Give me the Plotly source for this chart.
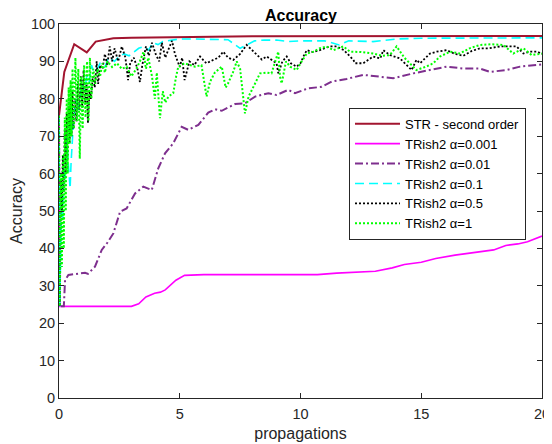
import plotly.graph_objects as go

# ---------------- data ----------------
str_x = [0, 0.22, 0.63, 1.15, 1.52, 2.25, 3.0, 5.0, 8.0, 20]
str_y = [75.5, 87.2, 94.6, 92.4, 95.3, 96.2, 96.3, 96.4, 96.7, 96.8]

a001_x = [0, 0.03, 3.0, 3.3, 3.6, 3.96, 4.2, 4.4, 4.84, 5.2, 6.0, 10.7, 11.5, 13.1, 13.8,
          14.3, 15.0, 15.6, 16.4, 17.0, 18.0, 18.5, 19.0, 19.4, 20]
a001_y = [75.5, 24.5, 24.5, 25.2, 27.0, 28.0, 28.3, 28.9, 31.5, 32.8, 33.0, 33.0, 33.4, 33.9, 34.8,
          35.7, 36.3, 37.3, 38.2, 38.8, 39.6, 40.8, 41.2, 41.8, 43.3]

a01_x = [0, 0.03, 0.2, 0.25, 0.39, 1.08, 1.2, 1.49, 1.77, 2.0, 2.25, 2.53, 2.8, 3.15, 3.49, 3.84,
         4.11, 4.39, 4.73, 5.08, 5.35, 5.77, 6.18, 6.46, 6.74, 7.29, 7.70, 8.12, 8.67, 9.01,
         9.49, 9.77, 10.32, 10.88, 11.29, 11.91, 12.6, 13.2, 13.84, 14.67, 15.36, 16.05,
         16.74, 17.43, 17.85, 18.54, 19.09, 19.78, 20]
a01_y = [75.5, 24.5, 24.5, 31.5, 32.9, 33.5, 33.2, 35.1, 39.6, 41.5, 44.0, 49.8, 50.7, 54.7, 56.5, 55.6,
         61.4, 65.4, 68.1, 72.5, 71.7, 73.0, 76.3, 77.2, 76.8, 78.6, 78.8, 80.6, 81.5, 81.0,
         82.4, 81.5, 82.8, 83.2, 84.6, 85.3, 86.4, 85.9, 85.5, 86.8, 87.7, 88.6,
         88.1, 88.1, 87.2, 87.7, 88.6, 89.0, 89.2]

a1_x = [0, 0.03, 0.07, 0.1, 0.15, 0.2, 0.25, 0.3, 0.35, 0.4, 0.46, 0.5, 0.55, 0.6, 0.7, 0.8, 0.87,
        0.95, 1.05, 1.15, 1.25, 1.35, 1.45, 1.56, 1.7, 1.9, 2.05, 2.3, 2.5, 2.7, 2.9, 3.1,
        3.3, 3.5, 3.7, 3.9, 4.1, 4.3, 4.7, 5.0, 5.5, 6.0, 7.0, 7.5, 7.8, 8.1, 8.5, 9.0,
        9.5, 10.0, 11.0, 11.6, 12.0, 13.0, 14.0, 15.0, 20]
a1_y = [75.5, 24.5, 40, 52, 48, 62, 58, 70, 66, 60, 56, 63, 70, 74, 80, 77, 80,
        84, 82, 86, 84.5, 89, 87, 87.7, 89.5, 88.5, 91, 90, 91.5, 92, 91.5, 92.5,
        93.5, 94, 93, 95, 94.5, 95.3, 95.8, 96, 96, 96, 95.8, 93.5, 94.5, 95.5, 95.7, 95.7,
        95.3, 95.5, 95.5, 94.4, 95.5, 95.3, 96.0, 96.2, 96.3]

a5_x = [0, 0.03, 0.06, 0.09, 0.12, 0.16, 0.2, 0.24, 0.28, 0.32, 0.36, 0.40, 0.44, 0.48, 0.52, 0.56,
        0.60, 0.66, 0.72, 0.78, 0.84, 0.90, 0.96, 1.02, 1.08, 1.14, 1.20, 1.26, 1.32, 1.40,
        1.48, 1.56, 1.62, 1.7, 1.8, 1.9, 2.0, 2.1, 2.2, 2.3, 2.45, 2.6, 2.75, 2.86, 2.95,
        3.1, 3.25, 3.35, 3.45, 3.6, 3.72, 3.85, 4.0, 4.15, 4.26, 4.4, 4.55, 4.68, 4.8, 5.0,
        5.1, 5.2, 5.4, 5.6, 5.84, 6.1, 6.39, 6.6, 6.8, 7.0, 7.22, 7.5, 7.77, 8.0, 8.18, 8.4,
        8.6, 8.8, 9.01, 9.08, 9.25, 9.43, 9.6, 9.84, 10.0, 10.12, 10.26, 10.5, 10.8, 11.2,
        11.5, 11.8, 12.19, 12.26, 12.6, 13.01, 13.3, 13.43, 13.7, 14.12, 14.4, 14.6, 14.8,
        14.95, 15.36, 15.64, 16.05, 16.4, 16.74, 17.1, 17.43, 17.8, 18.26, 18.68, 18.95,
        19.23, 19.5, 19.8, 20]
a5_y = [75.5, 24.5, 45, 58, 50, 65, 55, 72, 60, 76, 65, 78, 68, 80, 70, 82,
        72, 80, 74, 84, 77, 86, 78, 87.7, 79, 84, 73.5, 82, 80, 86,
        83, 90, 84, 89, 88, 92, 89, 94, 90, 93.5, 90, 94, 91, 85, 89.6,
        91, 88, 84.5, 89, 94, 91.5, 95, 92, 90, 95, 91, 93.5, 95.5, 92, 88.5,
        91, 85, 90, 89, 91.3, 89.5, 90.4, 91, 92.6, 91, 90.4, 92, 94.4, 93, 92.1, 90.5,
        91.3, 90.5, 89.5, 86.8, 90, 91.3, 89.5, 88.6, 89.5, 91.3, 93.0, 92.5, 93, 94,
        94, 93, 90.4, 89.5, 89.5, 91.3, 90.8, 93, 91.7, 90.8, 89, 87.7, 90.4,
        89.5, 92.1, 92.6, 93, 92, 91.5, 92.8, 93.5, 93.5, 94, 93.9, 94,
        92.1, 92.6, 92.6, 92]

a10_x = [0, 0.03, 0.06, 0.09, 0.12, 0.16, 0.2, 0.24, 0.28, 0.32, 0.36, 0.40, 0.44, 0.48, 0.52, 0.56,
         0.62, 0.68, 0.74, 0.80, 0.86, 0.92, 0.98, 1.04, 1.10, 1.16, 1.22, 1.28, 1.34, 1.42,
         1.50, 1.6, 1.7, 1.8, 1.9, 2.0, 2.2, 2.4, 2.6, 2.8, 3.0, 3.2, 3.35, 3.5, 3.6, 3.7,
         3.85, 3.97, 4.05, 4.18, 4.3, 4.4, 4.53, 4.73, 4.85, 4.94, 5.2, 5.63, 5.9, 6.11, 6.25,
         6.45, 6.74, 6.9, 7.0, 7.2, 7.36, 7.5, 7.7, 7.85, 8.12, 8.32, 8.6, 8.8, 9.08, 9.15,
         9.22, 9.4, 9.57, 9.84, 10.05, 10.26, 10.53, 10.8, 11.08, 11.36, 11.77, 12.05, 12.5,
         13.0, 13.4, 13.7, 13.98, 14.3, 14.6, 14.8, 15.2, 15.5, 15.77, 16.2, 16.6, 17.0,
         17.43, 17.9, 18.4, 18.81, 19.23, 19.57, 20]
a10_y = [75.5, 24.5, 40, 60, 35, 65, 40, 75, 50, 80, 60, 83, 68, 85, 70, 88,
         72, 91, 74, 88, 64, 86, 72, 89, 75, 90, 74, 91, 80, 88,
         84, 88, 86, 89.5, 87, 90, 88.5, 89.5, 88, 88.6, 86, 88, 90, 92.6, 88, 91,
         86, 80, 87, 74.8, 82, 79, 80.6, 81.5, 86, 88.6, 89.5, 88.6, 89, 80.6, 84.5,
         87, 88.6, 83, 84.1, 87, 90, 88, 76.1, 80.6, 84.1, 86.8, 87, 86.8, 92.6, 86,
         84.1, 90, 88.6, 87.7, 90, 92.1, 92.6, 93.5, 94, 93, 94, 92.6, 92.5,
         92.1, 91.5, 91.7, 94, 91, 89, 87.7, 88.6, 89.5, 91.3, 92.6, 92.1, 93.5,
         94.4, 94.6, 94.4, 92.1, 93.5, 91.7, 92.1]

x_ticks = [0, 5, 10, 15, 20]
y_ticks = [0, 10, 20, 30, 40, 50, 60, 70, 80, 90, 100]

series = [
    ("STR - second order", str_x, str_y, "#A2142F", "solid", 2.0),
    ("TRish2 α=0.001", a001_x, a001_y, "#FF00FF", "solid", 1.6),
    ("TRish2 α=0.01", a01_x, a01_y, "#7E2F8E", "8px,3px,2px,3px", 2.0),
    ("TRish2 α=0.1", a1_x, a1_y, "#00FFFF", "9px,5px", 1.6),
    ("TRish2 α=0.5", a5_x, a5_y, "#000000", "2px,2px", 1.8),
    ("TRish2 α=1", a10_x, a10_y, "#00FF00", "2px,2px", 2.0),
]

fig = go.Figure()
for name, xs, ys, col, dash, w in series:
    fig.add_trace(go.Scatter(x=xs, y=ys, mode="lines", name=name,
                             line=dict(color=col, dash=dash, width=w)))

axis_common = dict(showline=True, linecolor="#262626", linewidth=1, mirror="ticks",
                   ticks="inside", ticklen=5, tickcolor="#262626", showgrid=False,
                   zeroline=False, automargin=False,
                   tickfont=dict(size=14.5, color="#262626"))

# the page body adds an 8px margin; figure is sized to fill the remaining window
fig.update_layout(
    width=544, height=436,
    margin=dict(l=51, r=10, t=16, b=46),
    paper_bgcolor="white", plot_bgcolor="white",
    font=dict(family="Liberation Sans, Arial, sans-serif", color="#262626", size=14.5),
    title=dict(text="<b>Accuracy</b>", x=0.5386, xanchor="center", y=0.984, yanchor="middle",
               font=dict(size=16, color="black")),
    xaxis=dict(range=[0, 20], tickvals=x_ticks, ticklabelstandoff=3,
               title=dict(text="propagations", standoff=6, font=dict(size=16)), **axis_common),
    yaxis=dict(range=[0, 100], tickvals=y_ticks,
               title=dict(text="Accuracy", standoff=5, font=dict(size=16)), **axis_common),
    legend=dict(x=0.6004, y=0.776, xanchor="left", yanchor="top",
                bgcolor="white", bordercolor="#262626", borderwidth=1,
                font=dict(size=13, color="black"), itemwidth=45, tracegroupgap=0),
    showlegend=True,
)

fig.write_html("out.html")
